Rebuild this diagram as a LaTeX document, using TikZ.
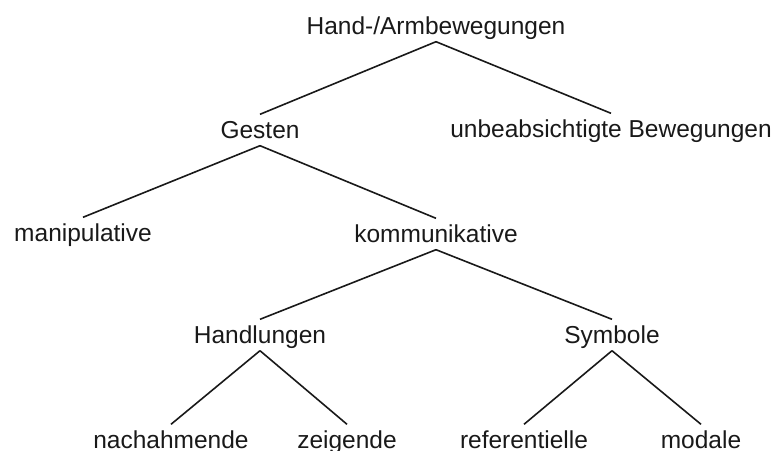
\documentclass[tikz,border=0pt]{standalone}
\usepackage{fontspec}
\setmainfont{Liberation Sans}
\usepackage{tikz}

\begin{document}
\begin{tikzpicture}[x=1pt,y=-1pt,
	word/.style={anchor=base,inner sep=1.5pt,text height=22pt,text depth=6pt,
		font=\fontsize{24.5}{29}\selectfont,text=black!90}]
	\useasboundingbox (0,0) rectangle (778,450);
	\node[word] (1) at (436,34) {Hand-/Armbewegungen};
	\node[word] (2) at (260,138) {Gesten};
	\node[word] (3) at (611,137) {unbeabsichtigte Bewegungen};
	\node[word] (4) at (83,241) {manipulative};
	\node[word] (5) at (436,242) {kommunikative};
	\node[word] (6) at (260,343) {Handlungen};
	\node[word] (7) at (612,343) {Symbole};
	\node[word] (8) at (171,448) {nachahmende};
	\node[word] (9) at (347,448) {zeigende};
	\node[word] (10) at (524,448) {referentielle};
	\node[word] (11) at (701,448) {modale};
	
	\path [-,line width=1.6pt,black!90]
	(1.south) edge (2.north)
	(1.south) edge (3.north)
	(2.south) edge (4.north)
	(2.south) edge (5.north)
	(5.south) edge (6.north)
	(5.south) edge (7.north)
	(6.south) edge (8.north)
	(6.south) edge (9.north)
	(7.south) edge (10.north)
	(7.south) edge (11.north);
\end{tikzpicture}
\end{document}
